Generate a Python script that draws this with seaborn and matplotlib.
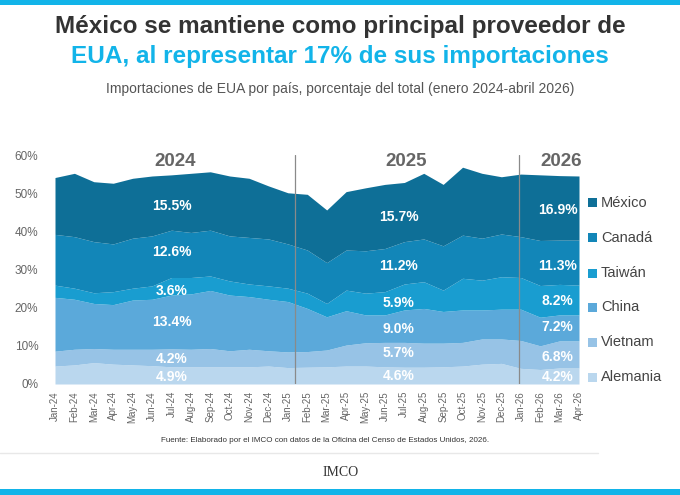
import numpy as np
import pandas as pd
import seaborn as sns
import matplotlib.pyplot as plt
from matplotlib.patches import Rectangle

# --- Data (share of US imports, %) ---
months = ["Jan-24", "Feb-24", "Mar-24", "Apr-24", "May-24", "Jun-24", "Jul-24", "Aug-24",
          "Sep-24", "Oct-24", "Nov-24", "Dec-24", "Jan-25", "Feb-25", "Mar-25", "Apr-25",
          "May-25", "Jun-25", "Jul-25", "Aug-25", "Sep-25", "Oct-25", "Nov-25", "Dec-25",
          "Jan-26", "Feb-26", "Mar-26", "Apr-26"]

alemania = [4.7, 5.0, 5.6, 5.2, 5.0, 4.8, 4.5, 4.5, 4.5, 4.5, 4.5, 4.7,
            4.3, 4.4, 4.5, 4.7, 4.7, 4.5, 4.4, 4.4, 4.5, 4.7, 5.2, 5.4,
            4.1, 3.8, 4.2, 4.2]
vietnam = [3.9, 4.1, 3.7, 3.9, 4.1, 4.3, 4.7, 4.6, 4.8, 4.2, 4.6, 4.0,
           4.1, 4.1, 4.4, 5.5, 6.1, 6.4, 6.5, 6.3, 6.2, 6.2, 6.6, 6.4,
           7.3, 6.2, 7.1, 7.1]
china = [14.1, 13.1, 11.8, 11.7, 12.9, 13.1, 14.1, 14.5, 15.2, 14.6, 13.8, 13.5,
         13.2, 11.3, 8.7, 9.0, 7.3, 7.2, 8.5, 9.1, 8.3, 8.5, 7.6, 7.8,
         8.2, 7.5, 6.8, 6.8]
taiwan = [3.2, 2.9, 2.8, 3.4, 3.1, 3.5, 4.6, 4.3, 3.8, 3.7, 3.3, 3.5,
          3.5, 4.0, 3.5, 5.4, 5.7, 6.1, 6.8, 7.0, 5.6, 8.3, 7.8, 8.5,
          8.3, 8.3, 8.0, 7.8]
canada = [13.3, 13.5, 13.4, 12.5, 13.1, 13.1, 12.4, 11.8, 12.0, 11.8, 12.2, 12.3,
          11.6, 11.3, 10.7, 10.5, 11.1, 11.3, 11.1, 11.2, 11.6, 11.3, 11.0, 11.2,
          10.7, 11.8, 11.6, 11.8]
mexico = [14.9, 16.6, 15.7, 15.9, 15.7, 15.7, 14.5, 15.5, 15.3, 15.7, 15.5, 13.9,
          13.4, 14.6, 13.8, 15.3, 16.5, 16.8, 15.5, 17.2, 16.1, 17.8, 17.0, 15.0,
          16.4, 17.2, 16.9, 16.8]

countries = ["Alemania", "Vietnam", "China", "Taiwán", "Canadá", "México"]
years = ["2024", "2025", "2026"]
# average share labels per period, same order as countries
labels_2024 = ["4.9%", "4.2%", "13.4%", "3.6%", "12.6%", "15.5%"]
labels_2025 = ["4.6%", "5.7%", "9.0%", "5.9%", "11.2%", "15.7%"]
labels_2026 = ["4.2%", "6.8%", "7.2%", "8.2%", "11.3%", "16.9%"]

df = pd.DataFrame({"Alemania": alemania, "Vietnam": vietnam, "China": china,
                   "Taiwán": taiwan, "Canadá": canada, "México": mexico}, index=months)

# --- Style ---
sns.set_theme(style="white")
plt.rcParams["font.family"] = ["Liberation Sans", "DejaVu Sans"]
palette = sns.color_palette(["#bad7ee", "#97c3e6", "#5ba9da", "#199dd0", "#1286b8", "#0e6f97"])
cyan = "#12b4e9"

fig = plt.figure(figsize=(6.8, 4.95), dpi=100)
ax = fig.add_axes([55 / 680, 1 - 384 / 495, 524 / 680, 229 / 495])

x = np.arange(len(months))
ax.stackplot(x, [df[c].values for c in countries], colors=palette, linewidth=0)

ax.set_xlim(0, len(months) - 1)
ax.set_ylim(0, 60)
ax.set_yticks(range(0, 61, 10))
ax.set_yticklabels([f"{v}%" for v in range(0, 61, 10)], fontsize=8.5, color="#666666")
ax.set_xticks(x)
ax.set_xticklabels(months, rotation=90, fontsize=7, color="#666666")
ax.tick_params(axis="x", length=3, color="#d0d0d0", pad=2)
ax.tick_params(axis="y", length=0, pad=12)
for s in ax.spines.values():
    s.set_visible(False)
ax.grid(False)

# period separators
for xv in [12.35, 23.9]:
    ax.axvline(xv, color="#8a8a8a", lw=0.9)

# year labels
for xv, yr in zip([6.2, 18.1, 26.1], years):
    ax.text(xv, 58.2, yr, ha="center", va="center", fontsize=13.5, fontweight="bold", color="#666666")

# period average labels
label_y = {
    "2024": [1.8, 6.5, 16.2, 24.4, 34.7, 46.7],
    "2025": [2.1, 8.2, 14.3, 21.1, 30.9, 43.8],
    "2026": [1.9, 7.0, 15.0, 21.7, 30.9, 45.6],
}
for xv, yr, labs in zip([6.0, 17.7, 25.9], years, [labels_2024, labels_2025, labels_2026]):
    for lab, yv in zip(labs, label_y[yr]):
        ax.text(xv, yv, lab, ha="center", va="center", fontsize=10, fontweight="bold", color="white")

# legend on the right
leg_y = [203, 238, 273, 307, 342, 377]
for c, col, yy in zip(countries[::-1], palette[::-1], leg_y):
    fig.add_artist(Rectangle((588 / 680, 1 - (yy + 4.5) / 495), 9 / 680, 9 / 495,
                             transform=fig.transFigure, color=col, lw=0))
    fig.text(601 / 680, 1 - yy / 495, c, ha="left", va="center", fontsize=10.5, color="#444444")

# titles
fig.text(0.5, 1 - 27 / 495, "México se mantiene como principal proveedor de", ha="center", va="center",
         fontsize=17.5, fontweight="bold", color="#333333")
fig.text(0.5, 1 - 56 / 495, "EUA, al representar 17% de sus importaciones", ha="center", va="center",
         fontsize=17.5, fontweight="bold", color=cyan)
fig.text(0.5, 1 - 89 / 495, "Importaciones de EUA por país, porcentaje del total (enero 2024-abril 2026)",
         ha="center", va="center", fontsize=10, color="#555555")

# source and footer
fig.text(325 / 680, 1 - 441 / 495,
         "Fuente: Elaborado por el IMCO con datos de la Oficina del Censo de Estados Unidos, 2026.",
         ha="center", va="center", fontsize=5.8, color="#333333")
fig.add_artist(plt.Line2D([0, 598 / 680], [1 - 453 / 495] * 2, transform=fig.transFigure,
                          color="#e8e8e8", lw=1))
fig.text(341 / 680, 1 - 473 / 495, "IMCO", ha="center", va="center", fontsize=10,
         family=["Liberation Serif", "DejaVu Serif"], color="#333333")
fig.add_artist(Rectangle((0, 0), 1, 6 / 495, transform=fig.transFigure, color=cyan, lw=0))
fig.add_artist(Rectangle((0, 1 - 5 / 495), 1, 5 / 495, transform=fig.transFigure, color=cyan, lw=0))

fig.savefig("out.png", dpi=100)
